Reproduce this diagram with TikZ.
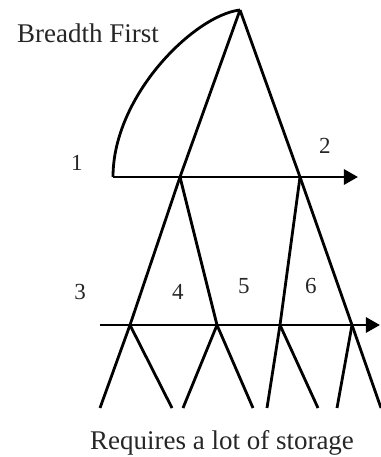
\documentclass[tikz,border=0pt]{standalone}
\usepackage{fontspec}
\setmainfont{Liberation Serif}
\usetikzlibrary{arrows.meta}
\tikzset{
  >={Triangle[length=7pt,width=7.5pt]},
  bedge/.style={line width=1.4pt,black},
  lvlarrow/.style={->,line width=1.4pt,black},
  numlbl/.style={font=\fontsize{11.5}{13}\selectfont,text=black!85,inner sep=0pt},
  cptn/.style={font=\fontsize{13.5}{16}\selectfont,text=black!85,inner sep=0pt},
}

\begin{document}
\begin{tikzpicture}[x=0.5pt,y=-0.5pt]
  \useasboundingbox (0,0) rectangle (381,457);
  % tree
  \coordinate (root) at (240,10);
  \coordinate (a) at (180,177);
  \coordinate (b) at (300,177);
  \coordinate (c) at (130,325);
  \coordinate (d) at (217,325);
  \coordinate (e) at (280,325);
  \coordinate (f) at (352,325);
  \coordinate (c1) at (100,408);
  \coordinate (c2) at (172,408);
  \coordinate (d1) at (183,408);
  \coordinate (d2) at (253,408);
  \coordinate (e1) at (267,408);
  \coordinate (e2) at (318,408);
  \coordinate (f1) at (337,408);
  \coordinate (f2) at (381,408);
  % level sweeps
  \coordinate (s1) at (113,177);
  \coordinate (t1) at (358,177);
  \coordinate (s2) at (100,325);
  \coordinate (t2) at (380,325);
  \path[bedge] (root) edge (a) (root) edge (b)
        (a) edge (c) (a) edge (d) (b) edge (e) (b) edge (f)
        (c) edge (c1) (c) edge (c2) (d) edge (d1) (d) edge (d2)
        (e) edge (e1) (e) edge (e2) (f) edge (f1) (f) edge (f2);
  \draw[bedge] (s1) .. controls (113,95) and (195,15) .. (root);
  \draw[lvlarrow] (s1) -- (t1);
  \draw[lvlarrow] (s2) -- (t2);
  % labels
  \node[cptn] (title) at (88,33) {Breadth First};
  \node[numlbl] (n1) at (77,163) {1};
  \node[numlbl] (n2) at (325,146) {2};
  \node[numlbl] (n3) at (80,292) {3};
  \node[numlbl] (n4) at (178,292) {4};
  \node[numlbl] (n5) at (244,286) {5};
  \node[numlbl] (n6) at (311,286) {6};
  \node[cptn] (note) at (222,443) {Requires a lot of storage};
\end{tikzpicture}
\end{document}
